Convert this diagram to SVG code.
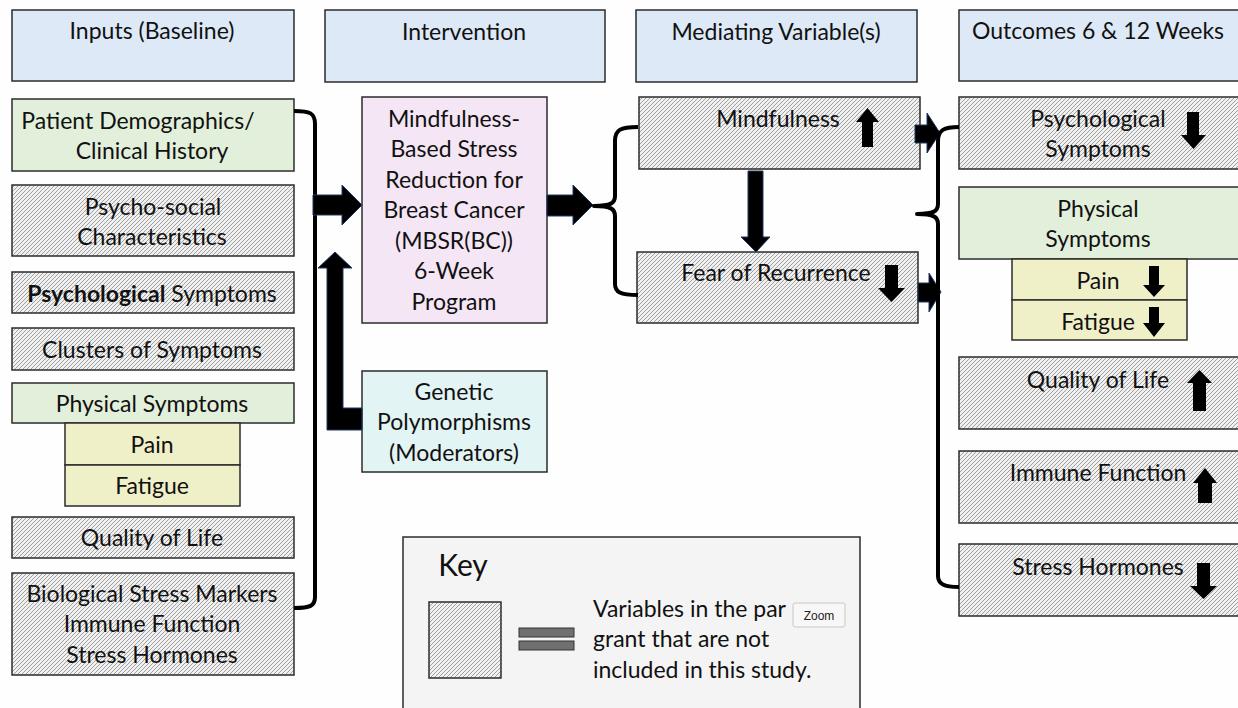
<svg xmlns="http://www.w3.org/2000/svg" width="1238" height="708" viewBox="0 0 1238 708">
<defs>
<pattern id="hatch" patternUnits="userSpaceOnUse" width="4" height="4">
<rect width="4" height="4" fill="#f0f0f0"/>
<path d="M-1,1 l2,-2 M0,4 l4,-4 M3,5 l2,-2" stroke="#a0a0a0" stroke-width="1"/>
</pattern>
<style>
.t{font-family:Lato,"Liberation Sans",sans-serif;font-size:23px;fill:#111;text-anchor:middle}
.box{stroke:#2b2b2b;stroke-width:1.5}
.hdr{fill:#dde9f6}
.h{fill:url(#hatch)}
.g{fill:#e2efda}
.y{fill:#f0f0c8}
.p{fill:#f5e6f5}
.c{fill:#e3f4f4}
.br{fill:none;stroke:#000;stroke-width:4;stroke-linejoin:round}
.ba{fill:#000;stroke:#1f3864;stroke-width:1}
.sa{fill:#000}
</style>
</defs>
<rect width="1238" height="708" fill="#fefefe"/>

<g id="hdr-inputs"><rect class="box hdr" x="12" y="10" width="282" height="71"/><text class="t" x="152" y="39">Inputs (Baseline)</text></g>
<g id="hdr-intervention"><rect class="box hdr" x="325" y="10" width="280" height="72"/><text class="t" x="464" y="40">Intervention</text></g>
<g id="hdr-mediating"><rect class="box hdr" x="636" y="10" width="281" height="72"/><text class="t" x="776" y="40">Mediating Variable(s)</text></g>
<g id="hdr-outcomes"><rect class="box hdr" x="959" y="10" width="282" height="71"/><text class="t" x="1098" y="39">Outcomes 6 &amp; 12 Weeks</text></g>

<g id="in-demographics"><rect class="box g" x="12" y="99" width="282" height="72"/><text class="t" x="138" y="129">Patient Demographics/</text><text class="t" x="152" y="159">Clinical History</text></g>
<g id="in-psychosocial"><rect class="box h" x="12" y="185" width="282" height="71"/><text class="t" x="153" y="215">Psycho-social</text><text class="t" x="152" y="245">Characteristics</text></g>
<g id="in-psychological"><rect class="box h" x="12" y="272" width="282" height="41"/><text class="t" x="152" y="302"><tspan font-weight="bold">Psychological</tspan> Symptoms</text></g>
<g id="in-clusters"><rect class="box h" x="12" y="328" width="282" height="42"/><text class="t" x="152" y="358">Clusters of Symptoms</text></g>
<g id="in-physical"><rect class="box g" x="12" y="383" width="282" height="40"/><text class="t" x="152" y="412">Physical Symptoms</text></g>
<g id="in-pain"><rect class="box y" x="65" y="423" width="175" height="42"/><text class="t" x="152" y="453">Pain</text></g>
<g id="in-fatigue"><rect class="box y" x="65" y="465" width="175" height="41"/><text class="t" x="152" y="494">Fatigue</text></g>
<g id="in-qol"><rect class="box h" x="12" y="517" width="282" height="41"/><text class="t" x="152" y="546">Quality of Life</text></g>
<g id="in-bio"><rect class="box h" x="12" y="573" width="282" height="102"/><text class="t" x="152" y="602">Biological Stress Markers</text><text class="t" x="152" y="632">Immune Function</text><text class="t" x="152" y="663">Stress Hormones</text></g>

<g id="mbsr"><rect class="box p" x="362" y="97" width="185" height="226"/>
<text class="t" x="454" y="127">Mindfulness-</text><text class="t" x="454" y="157">Based Stress</text><text class="t" x="454" y="188">Reduction for</text><text class="t" x="454" y="218">Breast Cancer</text><text class="t" x="454" y="249">(MBSR(BC))</text><text class="t" x="454" y="279">6-Week</text><text class="t" x="454" y="310">Program</text></g>
<g id="genetic"><rect class="box c" x="362" y="371" width="185" height="101"/><text class="t" x="454" y="400">Genetic</text><text class="t" x="454" y="430">Polymorphisms</text><text class="t" x="454" y="461">(Moderators)</text></g>

<g id="med-mindfulness"><rect class="box h" x="639" y="97" width="281" height="72"/><text class="t" x="778" y="127">Mindfulness</text>
<polygon class="sa" points="862,147 873,147 873,122 879,122 867.5,108 856,122 862,122"/></g>
<g id="med-fear"><rect class="box h" x="637" y="252" width="281" height="71"/><text class="t" x="776" y="281">Fear of Recurrence</text>
<polygon class="sa" points="885,265 898,265 898,288 905,288 891.5,302 878,288 885,288"/></g>

<g id="out-psych"><rect class="box h" x="959" y="97" width="282" height="72"/><text class="t" x="1098" y="127">Psychological</text><text class="t" x="1098" y="157">Symptoms</text>
<polygon class="sa" points="1187,112 1199,112 1199,135 1206,135 1193.5,149 1181,135 1187,135"/></g>
<g id="out-physical"><rect class="box g" x="959" y="187" width="282" height="72"/><text class="t" x="1098" y="217">Physical</text><text class="t" x="1098" y="247">Symptoms</text></g>
<g id="out-pain"><rect class="box y" x="1012" y="259" width="175" height="41"/><text class="t" x="1098" y="289">Pain</text>
<polygon class="sa" points="1149,266 1159,266 1159,285 1165,285 1154,297 1143,285 1149,285"/></g>
<g id="out-fatigue"><rect class="box y" x="1012" y="300" width="175" height="40"/><text class="t" x="1098" y="330">Fatigue</text>
<polygon class="sa" points="1149,307 1159,307 1159,323 1165,323 1154,337 1143,323 1149,323"/></g>
<g id="out-qol"><rect class="box h" x="959" y="357" width="282" height="72"/><text class="t" x="1098" y="388">Quality of Life</text>
<polygon class="sa" points="1193,411 1206,411 1206,383 1212,383 1199.5,370 1187,383 1193,383"/></g>
<g id="out-immune"><rect class="box h" x="959" y="451" width="282" height="72"/><text class="t" x="1098" y="481">Immune Function</text>
<polygon class="sa" points="1198,503 1212,503 1212,483 1217,483 1205,468 1193,483 1198,483"/></g>
<g id="out-stress"><rect class="box h" x="959" y="544" width="282" height="72"/><text class="t" x="1098" y="575">Stress Hormones</text>
<polygon class="sa" points="1197,563 1210,563 1210,586 1217,586 1203.5,599 1190,586 1197,586"/></g>

<g id="connectors">
<path class="br" d="M294,111 C310,111 315,113 315,124 L315,597 C315,606 310,608 294,608"/>
<polygon class="ba" points="313,195 342,195 342,185 362,205 342,225 342,215 313,215"/>
<polygon class="ba" points="362,408 362,430 327,430 327,268 318,268 335,252 352,268 343,268 343,408"/>
<polygon class="ba" points="547,195 573,195 573,185 593,205 573,225 573,216 547,216"/>
<path class="br" d="M638,127 C620,127 615,130 615,141 L615,196 C615,203 611,206 594,206 C611,206 615,209 615,216 L615,284 C615,292 620,295 638,295"/>
<polygon class="ba" points="748,171 763,171 763,237 770,237 756,252 741,237 748,237"/>
<polygon class="ba" points="915,125 927,125 927,113 940,133 927,153 927,143 915,143"/>
<polygon class="ba" points="918,283 929,283 929,273 941,292 929,312 929,302 918,302"/>
<path class="br" d="M959,127 C944,127 938,130 938,141 L938,204 C938,211 934,214 917,214 C934,214 938,217 938,224 L938,576 C938,584 944,587 959,587"/>
</g>

<g id="key">
<rect x="403" y="537" width="457" height="180" fill="#f4f4f4" stroke="#2b2b2b" stroke-width="1.5"/>
<text class="t" x="463" y="576" style="font-size:30px">Key</text>
<rect class="box h" x="429" y="602" width="72" height="76"/>
<rect x="519" y="628" width="55" height="9" fill="#707070" stroke="#333" stroke-width="1"/>
<rect x="519" y="641" width="55" height="9" fill="#707070" stroke="#333" stroke-width="1"/>
<text class="t" x="593" y="617" style="text-anchor:start">Variables in the par</text>
<text class="t" x="593" y="647" style="text-anchor:start">grant that are not</text>
<text class="t" x="593" y="678" style="text-anchor:start">included in this study.</text>
<rect x="793" y="603" width="52" height="24" rx="2" fill="#f7f7f7" stroke="#c8c8c8" stroke-width="1"/>
<text x="819" y="620" style="font-family:'Liberation Sans',sans-serif;font-size:12px;fill:#222;text-anchor:middle">Zoom</text>
</g>
</svg>
